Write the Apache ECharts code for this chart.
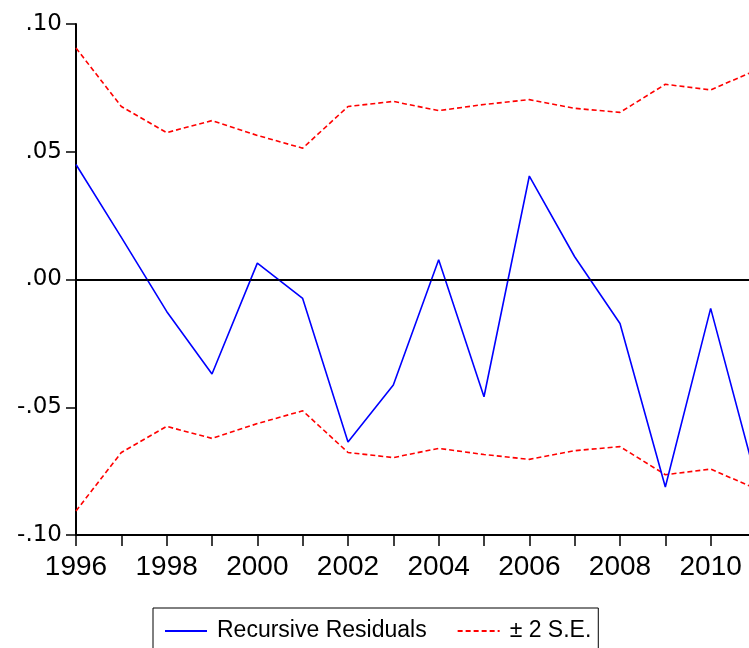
<!DOCTYPE html>
<html>
<head>
<meta charset="utf-8">
<script src="https://cdn.jsdelivr.net/npm/echarts@6/dist/echarts.min.js"></script>
<style>
html,body{margin:0;padding:0;background:#fff;}
#chart{width:749px;height:648px;}
</style>
</head>
<body>
<div id="chart"></div>
<script>
// ---- data ----
const years = ['1996','1997','1998','1999','2000','2001','2002','2003','2004','2005','2006','2007','2008','2009','2010','2011'];
const residuals = [0.045, 0.0165, -0.0125, -0.037, 0.0064, -0.0074, -0.0636, -0.0413, 0.0077, -0.0459, 0.0405, 0.0089, -0.0172, -0.0812, -0.0113, -0.078];
const upperSE = [0.0906, 0.0677, 0.0575, 0.0622, 0.0564, 0.0514, 0.0677, 0.0697, 0.0661, 0.0685, 0.0704, 0.0670, 0.0654, 0.0764, 0.0742, 0.0819];
const lowerSE = [-0.0906, -0.0677, -0.0575, -0.0622, -0.0564, -0.0514, -0.0677, -0.0697, -0.0661, -0.0685, -0.0704, -0.0670, -0.0654, -0.0764, -0.0742, -0.0819];
const yTickLabels = ['-.10', '-.05', '.00', '.05', '.10'];
const yMin = -0.1, yMax = 0.1, yStep = 0.05;
const seriesNames = ['Recursive Residuals', '\u00B1 2 S.E.'];

function hasFont(name) {
  const c = document.createElement('canvas').getContext('2d');
  const s = 'Recursive Residuals 0123';
  c.font = '28px monospace';
  const a = c.measureText(s).width;
  c.font = '28px "' + name + '", monospace';
  const b = c.measureText(s).width;
  return Math.abs(a - b) > 0.5;
}
const narrow = hasFont('Liberation Sans Narrow');
const legendText = narrow
  ? { fontFamily: '"Liberation Sans Narrow"', fontSize: 28 }
  : { fontFamily: '"Liberation Sans", Arial, sans-serif', fontSize: 23 };

const chart = echarts.init(document.getElementById('chart'), null, { renderer: 'canvas' });
const option = {
  animation: false,
  backgroundColor: '#ffffff',
  // plot frame continues past the right edge of the picture (2011 sits just outside)
  grid: { left: 76, width: 680, top: 24, bottom: 113, containLabel: false, outerBoundsMode: 'none' },
  legend: {
    left: 153, top: 608,
    orient: 'horizontal',
    padding: [8, 7, 8, 11],
    itemWidth: 42, itemHeight: 14, itemGap: 30,
    borderColor: '#000', borderWidth: 1, borderRadius: 0,
    itemStyle: { opacity: 0, color: 'rgba(0,0,0,0)', borderWidth: 0 },
    textStyle: Object.assign({ color: '#000', lineHeight: 30, padding: [0, 0, 0, 5] }, legendText),
    data: [seriesNames[0], seriesNames[1]]
  },
  xAxis: [{
    type: 'category',
    data: years,
    boundaryGap: false,
    axisLine: { show: true, onZero: false, lineStyle: { color: '#000', width: 2 } },
    axisTick: { show: true, inside: false, length: 11, interval: 0, alignWithLabel: true, lineStyle: { color: '#000', width: 1.5 } },
    axisLabel: { interval: 1, margin: 18, color: '#000', fontFamily: '"Liberation Sans", Arial, sans-serif', fontSize: 28 },
    splitLine: { show: false }
  }, {
    type: 'category',
    data: years,
    position: 'top',
    boundaryGap: false,
    axisLine: { show: true, lineStyle: { color: '#000', width: 2 } },
    axisTick: { show: false },
    axisLabel: { show: false },
    splitLine: { show: false }
  }],
  yAxis: [{
    type: 'value',
    min: yMin, max: yMax, interval: yStep,
    axisLine: { show: true, onZero: false, lineStyle: { color: '#000', width: 2 } },
    axisTick: { show: true, inside: false, length: 10, lineStyle: { color: '#000', width: 1.5 } },
    axisLabel: {
      margin: 14, color: '#000', fontFamily: '"DejaVu Sans", sans-serif', fontSize: 23,
      formatter: function (v) { return yTickLabels[Math.round((v - yMin) / yStep)]; }
    },
    splitLine: { show: false }
  }],
  series: [{
    name: seriesNames[0],
    type: 'line',
    data: residuals,
    symbol: 'none',
    lineStyle: { color: '#0000ff', width: 1.6, type: 'solid' },
    itemStyle: { color: '#0000ff' },
    markLine: {
      silent: true, symbol: 'none', label: { show: false },
      lineStyle: { color: '#000', width: 1.5, type: 'solid' },
      data: [{ yAxis: 0 }]
    },
    z: 3
  }, {
    name: seriesNames[1],
    type: 'line',
    data: upperSE,
    symbol: 'none',
    lineStyle: { color: '#ff0000', width: 1.6, type: [5, 3] },
    itemStyle: { color: '#ff0000' },
    z: 2
  }, {
    name: seriesNames[1],
    type: 'line',
    data: lowerSE,
    symbol: 'none',
    lineStyle: { color: '#ff0000', width: 1.6, type: [5, 3] },
    itemStyle: { color: '#ff0000' },
    z: 2
  }]
};
chart.setOption(option);
</script>
</body>
</html>
